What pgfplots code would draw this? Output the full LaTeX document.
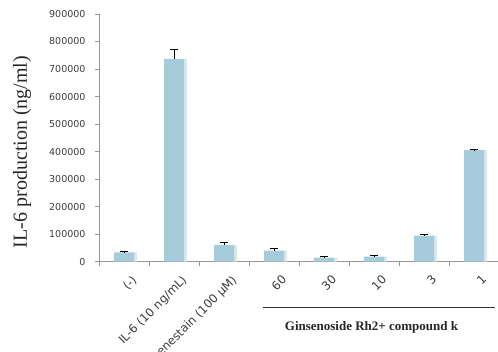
\documentclass[border=0pt]{standalone}
\usepackage{fontspec}
\setmainfont{DejaVu Sans}
\newfontfamily\serifrm{Liberation Serif}
\usepackage{pgfplots}
\usepackage{pgfplotstable}
\pgfplotsset{compat=1.18}

\definecolor{barblue}{RGB}{166,204,219}
\definecolor{barshade}{RGB}{218,231,237}
\definecolor{axisgray}{RGB}{150,150,150}
\definecolor{ticktext}{RGB}{60,60,60}

% IL-6 production per treatment: mean and upper error
\pgfplotstableread{
x val err
0 34000 2500
1 736000 36000
2 61000 10000
3 40000 7000
4 14500 4000
5 18000 5000
6 95000 4000
7 405000 2000
}\ildata

\begin{document}
\begin{tikzpicture}
\useasboundingbox (0,0) rectangle (498pt,352pt);
\begin{axis}[
  at={(99pt,90.3pt)}, anchor=south west,
  scale only axis, width=400pt, height=247.7pt,
  xmin=-0.5, xmax=7.5, ymin=0, ymax=900000,
  axis x line*=bottom, axis y line*=left,
  axis line style={axisgray, line width=0.8pt},
  tick style={axisgray, line width=0.8pt},
  tick align=outside, major tick length=4pt,
  xtick={-0.5,0.5,1.5,2.5,3.5,4.5,5.5,6.5,7.5},
  x tick label as interval,
  xticklabels={(-),IL-6 (10 ng/mL),genestain (100 μM),60,30,10,3,1},
  xticklabel style={rotate=45, anchor=north east, inner sep=1pt,
    yshift=-10pt, xshift=0pt,
    font=\fontsize{11.8}{13}\selectfont, text=ticktext},
  ytick={0,100000,200000,300000,400000,500000,600000,700000,800000,900000},
  scaled y ticks=false,
  yticklabel style={font=\fontsize{9.5}{11}\selectfont, text=ticktext, xshift=-6pt},
  /pgf/number format/1000 sep={},
  /pgf/number format/fixed,
  /pgf/number format/assume math mode=true,
  ylabel={IL-6 production (ng/ml)},
  ylabel style={at={([xshift=-77pt]rel axis cs:0,0.443)}, anchor=center,
    font=\serifrm\fontsize{20}{22}\selectfont, text=black!85},
  clip=false,
]
% light strip on the right side of each bar
\addplot[ybar, bar width=4pt, bar shift=11pt, fill=barshade, draw=none]
  table[x=x, y=val]{\ildata};
% bars with upper error bars
\addplot[ybar, bar width=20pt, bar shift=0pt, fill=barblue, draw=none,
  error bars/.cd, y dir=plus, y explicit,
  error bar style={black, line width=1pt},
  error mark options={rotate=90, mark size=4pt, line width=1.2pt, black}]
  table[x=x, y=val, y error=err]{\ildata};

\draw[black!80, line width=0.8pt]
  ([yshift=-45.6pt]axis cs:2.78,0) -- ([yshift=-45.6pt]axis cs:7.42,0);
\node[font=\serifrm\bfseries\fontsize{13}{15}\selectfont, text=black!85]
  at ([yshift=-65.3pt]axis cs:4.95,0) {Ginsenoside Rh2+ compound k};
\end{axis}
\end{tikzpicture}
\end{document}
